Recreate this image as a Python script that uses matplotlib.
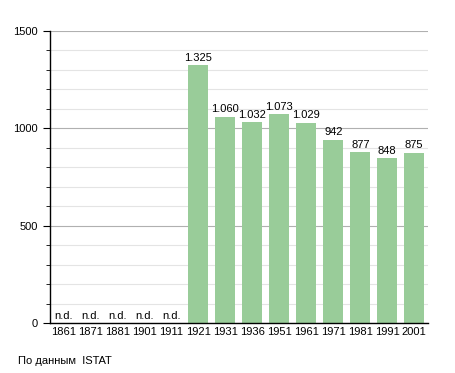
import matplotlib
matplotlib.use("Agg")
import matplotlib.pyplot as plt
from matplotlib.ticker import MultipleLocator

# Population by census year (n.d. = no data)
years = ["1861", "1871", "1881", "1901", "1911", "1921", "1931",
         "1936", "1951", "1961", "1971", "1981", "1991", "2001"]
population = [None, None, None, None, None, 1325, 1060,
              1032, 1073, 1029, 942, 877, 848, 875]
value_labels = ["n.d.", "n.d.", "n.d.", "n.d.", "n.d.", "1.325", "1.060",
                "1.032", "1.073", "1.029", "942", "877", "848", "875"]
source_text = "По данным  ISTAT"

BAR_COLOR = "#99cc99"
plt.rcParams["font.family"] = ["Liberation Sans", "DejaVu Sans"]

fig = plt.figure(figsize=(4.55, 3.73), dpi=100)
ax = fig.add_axes([0.11, 0.134, 0.83, 0.783])

x = list(range(len(years)))
heights = [v if v is not None else 0 for v in population]
ax.bar(x, heights, width=0.74, color=BAR_COLOR, zorder=2)

for xi, v, lab in zip(x, population, value_labels):
    y = v if v is not None else 0
    ax.text(xi, y + 12, lab, ha="center", va="bottom", fontsize=8, zorder=3)

ax.set_xlim(-0.5, len(years) - 0.5)
ax.set_ylim(0, 1500)
ax.set_xticks(x)
ax.set_xticklabels(years, fontsize=8)
ax.tick_params(axis="x", length=0, pad=3)

ax.yaxis.set_major_locator(MultipleLocator(500))
ax.yaxis.set_minor_locator(MultipleLocator(100))
ax.tick_params(axis="y", which="major", length=5, labelsize=8, pad=4)
ax.tick_params(axis="y", which="minor", length=3)

ax.grid(axis="y", which="major", color="#b0b0b0", linewidth=0.8, zorder=0)
ax.grid(axis="y", which="minor", color="#e4e4e4", linewidth=0.8, zorder=0)
ax.set_axisbelow(True)

for side in ("top", "right"):
    ax.spines[side].set_visible(False)
ax.spines["left"].set_linewidth(1.0)
ax.spines["bottom"].set_linewidth(1.0)

fig.text(18 / 455, 1 - 361 / 373, source_text, fontsize=8, va="center")

fig.savefig("out.png", dpi=100)
